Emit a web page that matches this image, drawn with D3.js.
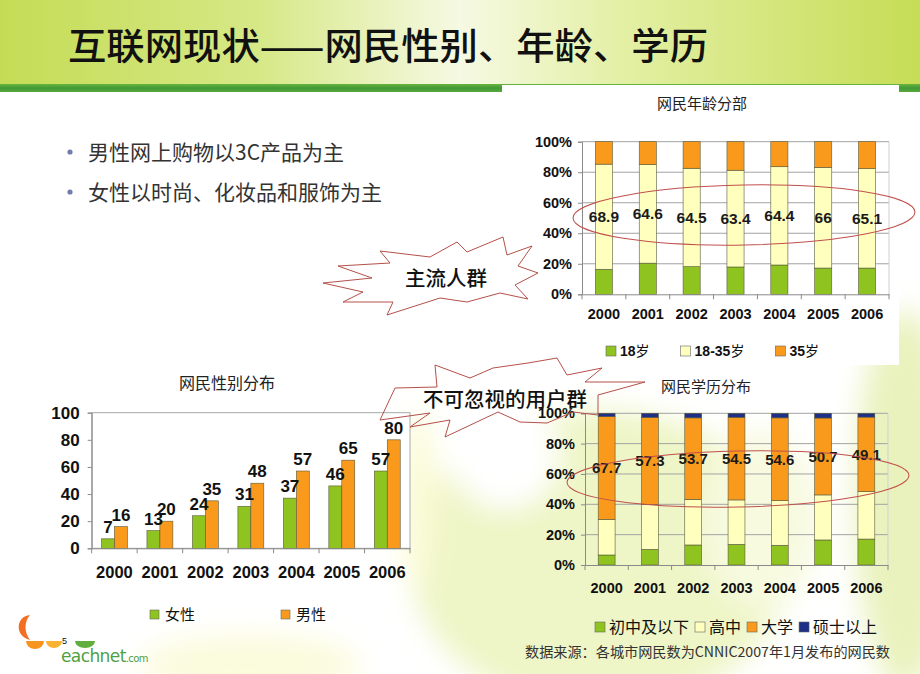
<!DOCTYPE html>
<html>
<head>
<meta charset="utf-8">
<script src="https://cdn.jsdelivr.net/npm/d3@7"></script>
<style>
body{margin:0;background:#fff}
svg{display:block}
</style>
</head>
<body>
<svg id="slide" width="920" height="674"></svg>
<script>
/* data */
var years = ['2000','2001','2002','2003','2004','2005','2006'];

// 网民性别分布
var genderKeys = ['女性','男性'];
var female = [7,13,24,31,37,46,57];
var male = [16,20,35,48,57,65,80];

// 网民年龄分部 (%)
var ageKeys = ['18岁','18-35岁','35岁'];
var ageUnder18 = [16.4,20.4,18.1,17.9,19.2,17.2,17.2];
var age18to35 = [68.9,64.6,64.5,63.4,64.4,66,65.1];
var ageOver35 = [14.7,15.0,17.4,18.7,16.4,16.8,17.7];

// 网民学历分布 (%)
var eduKeys = ['初中及以下','高中','大学','硕士以上'];
var eduMiddle = [6.6,10.3,13.2,13.6,13.0,16.5,17.1];
var eduHigh = [23.5,29.7,30.1,29.3,29.4,29.7,31.3];
var eduCollege = [67.7,57.3,53.7,54.5,54.6,50.7,49.1];
var eduMaster = [2.2,2.7,3.0,2.6,3.0,3.1,2.5];

var pctTicks = [0,20,40,60,80,100];
var numTicks = [0,20,40,60,80,100];

var bullets = ['男性网上购物以3C产品为主','女性以时尚、化妆品和服饰为主'];

var GREEN = '#8fc31f', PALE = '#ffffbe', ORANGE = '#f99a1c', NAVY = '#1d2f86';
var NUM = '"Liberation Sans", Arial, sans-serif';
var CJK = '"Noto Sans CJK SC", sans-serif';

var svg = d3.select('#slide');
var defs = svg.append('defs');

/* ---------- slide background ---------- */
var band = defs.append('linearGradient').attr('id','band').attr('x1',0).attr('x2',1);
[[0,'#c4dc55'],[0.28,'#d6e886'],[0.5,'#f6f9e3'],[0.68,'#e3efa3'],[1,'#c6dd55']].forEach(function(s){
    band.append('stop').attr('offset',s[0]).attr('stop-color',s[1]);
});
var line = defs.append('linearGradient').attr('id','gline').attr('x1',0).attr('x2',0).attr('y1',0).attr('y2',1);
line.append('stop').attr('offset',0).attr('stop-color','#6cb33f');
line.append('stop').attr('offset',0.5).attr('stop-color','#3f9a36');
line.append('stop').attr('offset',1).attr('stop-color','#5aa83a');
defs.append('filter').attr('id','soft').attr('x','-50%').attr('y','-50%').attr('width','200%').attr('height','200%')
    .append('feGaussianBlur').attr('stdDeviation',14);

svg.append('rect').attr('width',920).attr('height',86).attr('fill','url(#band)');
svg.append('rect').attr('y',84).attr('width',920).attr('height',8).attr('fill','url(#gline)');

// pale watermark shapes
var wm = svg.append('g').attr('filter','url(#soft)');
wm.append('ellipse').attr('cx',600).attr('cy',560).attr('rx',190).attr('ry',150).attr('fill','#eef5c6');
wm.append('ellipse').attr('cx',905).attr('cy',500).attr('rx',50).attr('ry',190).attr('fill','#e9f2bd');
wm.append('ellipse').attr('cx',250).attr('cy',665).attr('rx',110).attr('ry',30).attr('fill','#fbfbdc');
wm.append('ellipse').attr('cx',418).attr('cy',500).attr('rx',18).attr('ry',90).attr('fill','#fbfbd6');
wm.append('ellipse').attr('cx',505).attr('cy',455).attr('rx',55).attr('ry',55).attr('fill','#ffffff');
wm.append('ellipse').attr('cx',760).attr('cy',520).attr('rx',60).attr('ry',90).attr('fill','#f7fadf');

// white panel behind the age chart
svg.append('rect').attr('x',502).attr('y',85).attr('width',397).attr('height',280).attr('fill','#fff');

/* ---------- title and bullets ---------- */
svg.append('text').attr('x',68).attr('y',60)
    .attr('font-family',CJK).attr('font-size',37).attr('font-weight',500).attr('fill','#111')
    .attr('textLength',640).attr('lengthAdjust','spacingAndGlyphs')
    .text('互联网现状——网民性别、年龄、学历');

svg.selectAll('.bullet').data(bullets).enter().append('g').attr('class','bullet')
    .each(function(d,i){
        var g = d3.select(this);
        var y = 152 + i*40;
        g.append('circle').attr('cx',70).attr('cy',y).attr('r',2.6).attr('fill','#6d7fa6');
        g.append('text').attr('x',88).attr('y',y).attr('dy','0.36em')
            .attr('font-family',CJK).attr('font-size',21).attr('fill','#333').text(d);
    });

/* ---------- helpers ---------- */
function boundaries(x){
    var gap = (x.step() - x.bandwidth())/2;
    var b = x.domain().map(function(d){ return x(d) - gap; });
    b.push(x.range()[1]);
    return b;
}

function stackChart(o){
    var g = svg.append('g');
    var rows = years.map(function(y,i){
        var r = {year:y};
        o.keys.forEach(function(k,j){ r[k] = o.series[j][i]; });
        return r;
    });
    var stack = d3.stack().keys(o.keys)(rows);

    var x = d3.scaleBand().domain(years).range(o.xr).paddingInner(0.61).paddingOuter(0.305);
    var y = d3.scaleLinear().domain([0,100]).range(o.yr);

    if (o.bg) g.append('rect').attr('x',o.xr[0]).attr('y',o.yr[1])
        .attr('width',o.xr[1]-o.xr[0]).attr('height',o.yr[0]-o.yr[1]).attr('fill',o.bg);

    // grid
    g.append('g').selectAll('line').data(pctTicks.slice(1)).enter().append('line')
        .attr('x1',o.xr[0]).attr('x2',o.xr[1])
        .attr('y1',function(d){return y(d);}).attr('y2',function(d){return y(d);})
        .attr('stroke','#a3a3a3').attr('stroke-width',1);
    g.append('line').attr('x1',o.xr[1]).attr('x2',o.xr[1]).attr('y1',o.yr[0]).attr('y2',o.yr[1])
        .attr('stroke','#cfcfcf');

    // bars
    g.append('g').selectAll('g').data(stack).enter().append('g')
        .attr('fill',function(d,i){return o.colors[i];})
        .selectAll('rect').data(function(d){return d;}).enter().append('rect')
        .attr('x',function(d){return x(d.data.year);})
        .attr('width',x.bandwidth())
        .attr('y',function(d){return y(d[1]);})
        .attr('height',function(d){return y(d[0]) - y(d[1]);})
        .attr('stroke','#5a5a3a').attr('stroke-width',0.6);

    // labels on the main segment
    g.append('g').selectAll('text').data(stack[o.labelIndex]).enter().append('text')
        .attr('x',function(d){return x(d.data.year) + x.bandwidth()/2;})
        .attr('y',function(d){return (y(d[0]) + y(d[1]))/2;})
        .attr('dy','0.36em').attr('text-anchor','middle')
        .attr('font-family',NUM).attr('font-weight','bold').attr('font-size',o.labelSize).attr('fill','#1a1a1a')
        .text(function(d){return o.series[o.labelIndex][years.indexOf(d.data.year)];});

    // axes
    var ya = g.append('g').attr('transform','translate('+o.xr[0]+',0)')
        .call(d3.axisLeft(y).tickValues(pctTicks).tickSize(4).tickPadding(6).tickFormat(function(d){return d+'%';}));
    ya.select('.domain').attr('stroke','#8a8a8a');
    ya.selectAll('.tick line').attr('stroke','#8a8a8a');
    ya.selectAll('text').attr('font-family',NUM).attr('font-weight','bold').attr('font-size',14.5).attr('fill','#111');

    var xa = g.append('g').attr('transform','translate(0,'+o.yr[0]+')')
        .call(d3.axisBottom(x).tickSize(0).tickPadding(o.xPad));
    xa.select('.domain').attr('stroke','#8a8a8a');
    xa.selectAll('text').attr('font-family',NUM).attr('font-weight','bold').attr('font-size',14.5).attr('fill','#111');
    g.append('g').selectAll('line').data(boundaries(x)).enter().append('line')
        .attr('x1',function(d){return d;}).attr('x2',function(d){return d;})
        .attr('y1',o.yr[0]).attr('y2',o.yr[0]+5).attr('stroke','#8a8a8a');

    // title
    g.append('text').attr('x',o.title[1]).attr('y',o.title[2]).attr('dy','0.36em').attr('text-anchor','middle')
        .attr('font-family',CJK).attr('font-size',15).attr('fill','#222').text(o.title[0]);
    return g;
}

function legend(items, colors, x0, y, gap, size, bold){
    var g = svg.append('g');
    var x = x0;
    items.forEach(function(k,i){
        g.append('rect').attr('x',x).attr('y',y-5).attr('width',10).attr('height',10)
            .attr('fill',colors[i]).attr('stroke','#666').attr('stroke-width',0.6);
        var t = g.append('text').attr('x',x+14).attr('y',y).attr('dy','0.36em')
            .attr('font-size',size).attr('fill','#111');
        var m = bold ? k.match(/^([\d\-]+)(.*)$/) : null;
        if (m){
            t.append('tspan').attr('font-family',NUM).attr('font-weight','bold').text(m[1]);
            t.append('tspan').attr('font-family',CJK).text(m[2]);
        } else {
            t.attr('font-family',CJK).text(k);
        }
        x = x + 14 + t.node().getComputedTextLength() + gap;
    });
}

/* ---------- 网民年龄分部 ---------- */
stackChart({
    keys: ageKeys, series: [ageUnder18, age18to35, ageOver35], colors: [GREEN, PALE, ORANGE],
    xr: [582, 889], yr: [294.3, 141.7], labelIndex: 1, labelSize: 15.5, xPad: 14, bg: '#fff',
    title: ['网民年龄分部', 702, 104]
});
legend(ageKeys, [GREEN, PALE, ORANGE], 606, 351, 31, 14, true);

/* ---------- 网民学历分布 ---------- */
stackChart({
    keys: eduKeys, series: [eduMiddle, eduHigh, eduCollege, eduMaster], colors: [GREEN, PALE, ORANGE, NAVY],
    xr: [585, 888], yr: [565, 413.3], labelIndex: 2, labelSize: 15, xPad: 18, bg: null,
    title: ['网民学历分布', 706, 387]
});
legend(eduKeys, [GREEN, PALE, ORANGE, NAVY], 595, 627, 6, 16, false);

svg.append('text').attr('x',525).attr('y',652).attr('dy','0.36em')
    .attr('font-family',CJK).attr('font-size',14).attr('fill','#333')
    .attr('textLength',365).attr('lengthAdjust','spacingAndGlyphs')
    .text('数据来源：各城市网民数为CNNIC2007年1月发布的网民数');

/* ---------- 网民性别分布 ---------- */
(function(){
    var g = svg.append('g');
    var xr = [91.7, 410], yr = [548.3, 412.7];
    var x0 = d3.scaleBand().domain(years).range(xr).paddingInner(0.43).paddingOuter(0.215);
    var x1 = d3.scaleBand().domain(genderKeys).range([0, x0.bandwidth()]);
    var y = d3.scaleLinear().domain([0,100]).range(yr);
    var rows = years.map(function(yr_,i){ return {year:yr_, values:[female[i], male[i]]}; });
    var col = [GREEN, ORANGE];

    g.append('rect').attr('x',xr[0]).attr('y',yr[1]).attr('width',xr[1]-xr[0]).attr('height',yr[0]-yr[1])
        .attr('fill','#fff').attr('stroke','#a8a8a8');

    var grp = g.selectAll('.grp').data(rows).enter().append('g')
        .attr('transform',function(d){return 'translate('+x0(d.year)+',0)';});
    grp.selectAll('rect').data(function(d){return d.values;}).enter().append('rect')
        .attr('x',function(d,i){return x1(genderKeys[i]);})
        .attr('width',x1.bandwidth())
        .attr('y',function(d){return y(d);})
        .attr('height',function(d){return y(0) - y(d);})
        .attr('fill',function(d,i){return col[i];})
        .attr('stroke','#5a5a3a').attr('stroke-width',0.6);
    grp.selectAll('text').data(function(d){return d.values;}).enter().append('text')
        .attr('x',function(d,i){return x1(genderKeys[i]) + x1.bandwidth()/2;})
        .attr('y',function(d){return y(d) - 6;})
        .attr('text-anchor','middle')
        .attr('font-family',NUM).attr('font-weight','bold').attr('font-size',17).attr('fill','#111')
        .text(function(d){return d;});

    var ya = g.append('g').attr('transform','translate('+xr[0]+',0)')
        .call(d3.axisLeft(y).tickValues(numTicks).tickSize(4).tickPadding(8));
    ya.select('.domain').attr('stroke','#8a8a8a');
    ya.selectAll('.tick line').attr('stroke','#8a8a8a');
    ya.selectAll('text').attr('font-family',NUM).attr('font-weight','bold').attr('font-size',17).attr('fill','#111');

    var xa = g.append('g').attr('transform','translate(0,'+yr[0]+')')
        .call(d3.axisBottom(x0).tickSize(0).tickPadding(18));
    xa.select('.domain').attr('stroke','#8a8a8a');
    xa.selectAll('text').attr('font-family',NUM).attr('font-weight','bold').attr('font-size',16.5).attr('fill','#111');
    g.append('g').selectAll('line').data(boundaries(x0)).enter().append('line')
        .attr('x1',function(d){return d;}).attr('x2',function(d){return d;})
        .attr('y1',yr[0]).attr('y2',yr[0]+5).attr('stroke','#8a8a8a');

    g.append('text').attr('x',227).attr('y',383).attr('dy','0.36em').attr('text-anchor','middle')
        .attr('font-family',CJK).attr('font-size',16).attr('fill','#222').text('网民性别分布');

    genderKeys.forEach(function(k,i){
        var lx = 150 + i*131;
        g.append('rect').attr('x',lx).attr('y',610).attr('width',9).attr('height',9)
            .attr('fill',col[i]).attr('stroke','#666').attr('stroke-width',0.6);
        g.append('text').attr('x',lx+15).attr('y',615).attr('dy','0.36em')
            .attr('font-family',CJK).attr('font-size',15).attr('fill','#111').text(k);
    });
})();

/* ---------- call-outs ---------- */
var RED = '#c0504d';
svg.append('ellipse').attr('cx',744).attr('cy',215).attr('rx',171).attr('ry',30)
    .attr('transform','rotate(-1,744,215)').attr('fill','none').attr('stroke',RED).attr('stroke-width',1);
svg.append('ellipse').attr('cx',738).attr('cy',479).attr('rx',171).attr('ry',28)
    .attr('transform','rotate(-1.2,738,479)').attr('fill','none').attr('stroke',RED).attr('stroke-width',1);

function burst(cx, cy, pts, label, fs){
    var p = pts.map(function(q){return [cx+q[0], cy+q[1]];});
    svg.append('path').attr('d', d3.line()(p) + 'Z')
        .attr('fill','none').attr('stroke','#b5504a').attr('stroke-width',1);
    svg.append('text').attr('x',cx).attr('y',cy).attr('dy','0.36em').attr('text-anchor','middle')
        .attr('font-family',CJK).attr('font-size',fs).attr('font-weight',500).attr('fill','#111').text(label);
}
burst(446, 279, [[-123,4],[-74,-1],[-108,-13],[-56,-16],[-66,-28],[-16,-22],[11,-37],[21,-27],[57,-42],[61,-24],[86,-33],[72,-13],[92,-6],[69,6],[82,20],[54,14],[21,23],[-6,19],[-59,36],[-53,23],[-103,23],[-83,13]],
      '主流人群', 20.5);
burst(505, 400, [[-125,20],[-110,-12],[-68,-13],[-70,-35],[-35,-22],[-12,-32],[23,-37],[52,-42],[62,-25],[97,-32],[80,-18],[140,-18],[93,-5],[93,15],[68,12],[42,23],[15,22],[-7,12],[-60,37],[-55,20],[-95,27],[-75,13]],
      '不可忽视的用户群', 20.5);

/* ---------- logo ---------- */
var logo = svg.append('g');
logo.append('path').attr('d','M30,615 C16,616 14,636 30,640 C24,632 24,622 30,615z').attr('fill','#f36f21');
logo.append('path').attr('d','M26,641 a9,8 0 0,0 18,0z').attr('fill','#f7941d');
logo.append('path').attr('d','M46,641 a8,7 0 0,0 16,0z').attr('fill','#f9b233');
logo.append('path').attr('d','M75,641 a10,7 0 0,0 20,0z').attr('fill','#5fae3e');
logo.append('text').attr('x',61).attr('y',662).attr('font-family','"DejaVu Sans", sans-serif')
    .attr('font-size',17).attr('fill','#4f9f45').attr('letter-spacing',-0.6).text('eachnet')
    .append('tspan').attr('font-size',10).text('.com');
svg.append('text').attr('x',62).attr('y',644).attr('font-family',NUM).attr('font-size',9).attr('fill','#111').text('5');
</script>
</body>
</html>
